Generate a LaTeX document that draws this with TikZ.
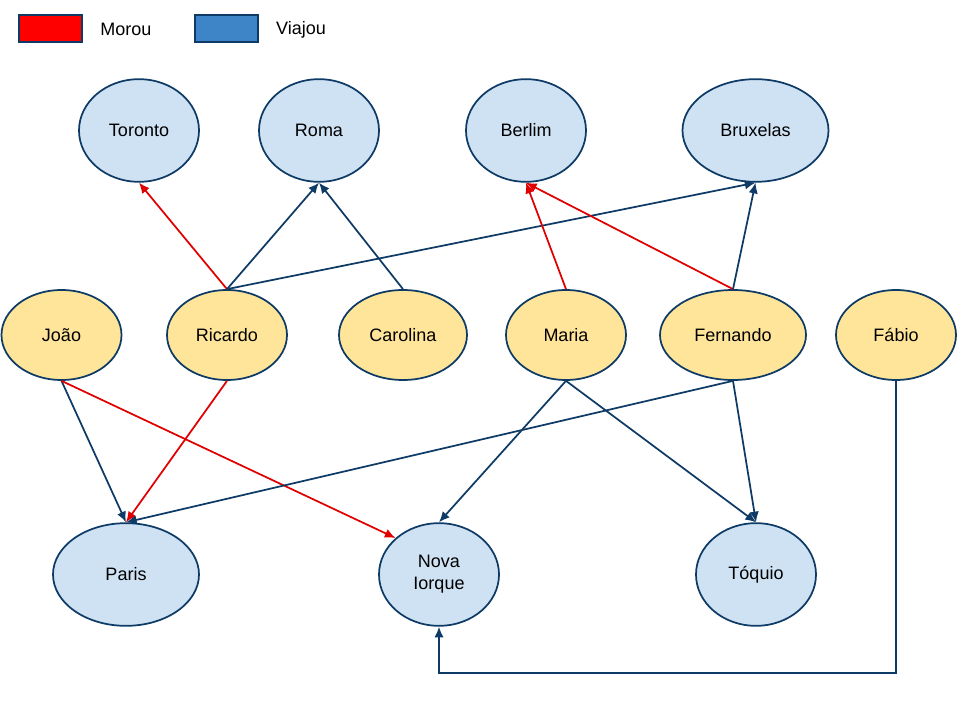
\documentclass[tikz,border=0pt]{standalone}
\usepackage{fontspec}
\setmainfont{Liberation Sans}
\usetikzlibrary{shapes.geometric,arrows.meta}
\definecolor{edgeblue}{HTML}{0E3B66}
\definecolor{edgered}{HTML}{E00000}
\definecolor{cityfill}{HTML}{CFE2F3}
\definecolor{personfill}{HTML}{FFE599}
\definecolor{legred}{HTML}{FF0000}
\definecolor{legblue}{HTML}{3D85C6}
\begin{document}
\begin{tikzpicture}[x=0.75pt,y=-0.75pt,
    every node/.style={font=\fontsize{13.5}{16.5}\selectfont},
    city/.style={ellipse,draw=edgeblue,line width=1.3pt,fill=cityfill,inner sep=0pt,minimum width=90pt,minimum height=77pt,align=center},
    person/.style={ellipse,draw=edgeblue,line width=1.3pt,fill=personfill,inner sep=0pt,minimum width=90pt,minimum height=67.5pt},
    legbox/.style={draw=edgeblue,line width=1.3pt,inner sep=0pt,minimum width=47pt,minimum height=20pt},
    lived/.style={draw=edgered,line width=1.3pt,-{Latex[length=8pt,width=7pt]}},
    visited/.style={draw=edgeblue,line width=1.3pt,-{Latex[length=8pt,width=7pt]}}]
  \useasboundingbox[fill=white] (0,0) rectangle (960,720);
  % legenda
  \node[legbox,fill=legred] (lmorou) at (50.5,28.5) {};
  \node (tmorou) at (126,29.5) {Morou};
  \node[legbox,fill=legblue] (lviajou) at (226.5,28.5) {};
  \node (tviajou) at (301,29.5) {Viajou};
  % cidades
  \node[city] (toronto) at (139,130.5) {Toronto};
  \node[city] (roma) at (319,130.5) {Roma};
  \node[city] (berlim) at (526,130.5) {Berlim};
  \node[city,minimum width=109.5pt] (bruxelas) at (755.5,130.5) {Bruxelas};
  \node[city,minimum width=109.5pt] (paris) at (126,574.5) {Paris};
  \node[city] (nova) at (439,574.5) {Nova\\Iorque};
  \node[city] (toquio) at (756,574.5) {Tóquio};
  % pessoas
  \node[person] (joao) at (61.5,335) {João};
  \node[person] (ricardo) at (227,335) {Ricardo};
  \node[person,minimum width=96pt] (carolina) at (403,335) {Carolina};
  \node[person] (maria) at (566,335) {Maria};
  \node[person,minimum width=109.5pt] (fernando) at (733,335) {Fernando};
  \node[person] (fabio) at (896,335) {Fábio};
  \coordinate (bend) at (439,673);
  % ligacoes
  \draw[lived] (ricardo.north) -- (toronto.south);
  \draw[visited] (ricardo.north) -- (roma.south);
  \draw[visited] (ricardo.north) -- (bruxelas.south);
  \draw[visited] (carolina.north) -- (roma.south);
  \draw[lived] (maria.north) -- (berlim.south);
  \draw[lived] (fernando.north) -- (berlim.south);
  \draw[visited] (fernando.north) -- (bruxelas.south);
  \draw[visited] (joao.south) -- (paris.north);
  \draw[lived] (joao.south) -- (nova.140);
  \draw[lived] (ricardo.south) -- (paris.north);
  \draw[visited] (maria.south) -- (nova.north);
  \draw[visited] (maria.south) -- (toquio.north);
  \draw[visited] (fernando.south) -- (paris.north);
  \draw[visited] (fernando.south) -- (toquio.north);
  \draw[visited] (fabio.south) |- (bend) -- (nova.south);
\end{tikzpicture}
\end{document}
